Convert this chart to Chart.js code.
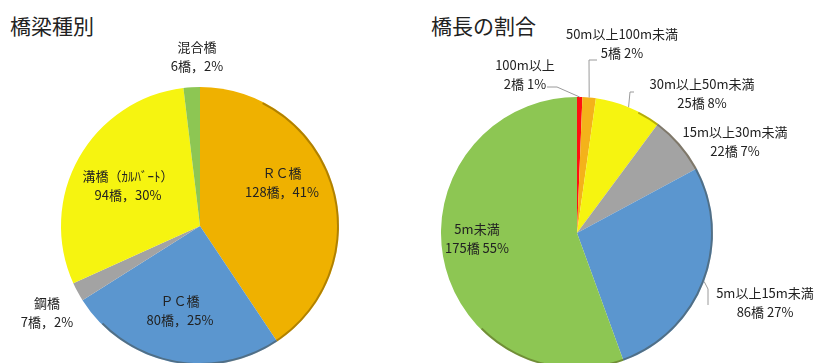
<!DOCTYPE html>
<html lang="ja">
<head>
<meta charset="utf-8">
<title>橋梁種別・橋長の割合</title>
<script src="https://cdn.jsdelivr.net/npm/chart.js@4.4.0/dist/chart.umd.min.js"></script>
<style>
  html, body { margin: 0; padding: 0; background: #fff; overflow: hidden; }
  body { width: 821px; height: 363px; position: relative; font-family: "Noto Sans CJK JP", sans-serif; }
  .title { position: absolute; top: 10px; font-size: 21px; line-height: 30px; color: #222; }
  .box { position: absolute; top: 0; }
</style>
</head>
<body>
<div class="title" style="left:10px">橋梁種別</div>
<div class="title" style="left:431px">橋長の割合</div>
<div class="box" style="left:0;width:410px;height:365px"><canvas id="typeChart"></canvas></div>
<div class="box" style="left:410px;width:411px;height:369px"><canvas id="lengthChart"></canvas></div>

<script>
// 橋梁種別
const typeLabels = ['ＲＣ橋', 'ＰＣ橋', '鋼橋', '溝橋（ｶﾙﾊﾞｰﾄ）', '混合橋'];
const typeCounts = [128, 80, 7, 94, 6];
const typePercents = [41, 25, 2, 30, 2];
const typeColors = ['#EFB100', '#5B96CF', '#A3A3A3', '#F6F410', '#8DC653'];

// 橋長の割合
const lengthLabels = ['100m以上', '50m以上100m未満', '30m以上50m未満', '15m以上30m未満', '5m以上15m未満', '5m未満'];
const lengthCounts = [2, 5, 25, 22, 86, 175];
const lengthPercents = [1, 2, 8, 7, 27, 55];
const lengthColors = ['#FF1010', '#F4B21A', '#F6F410', '#A3A3A3', '#5B96CF', '#8DC653'];

// ラベルと引出線（円の中心からの相対位置）
const sliceLabels = {
  id: 'sliceLabels',
  afterDatasetsDraw(chart, args, opts) {
    const ctx = chart.ctx;
    const arcs = chart.getDatasetMeta(0).data;
    if (!arcs.length) return;
    const cx = arcs[0].x, cy = arcs[0].y, r = arcs[0].outerRadius;

    // 右下の縁の影
    ctx.save();
    ctx.beginPath();
    ctx.arc(cx, cy, r - 1, -Math.PI * 0.35, Math.PI * 0.75);
    ctx.strokeStyle = 'rgba(60,40,0,0.35)';
    ctx.lineWidth = 2;
    ctx.stroke();
    ctx.restore();

    ctx.save();
    ctx.font = opts.font;
    ctx.fillStyle = '#222';
    ctx.textAlign = 'center';
    ctx.textBaseline = 'middle';
    arcs.forEach((arc, i) => {
      const [dx, dy] = opts.offsets[i];
      const lines = opts.text(i);
      lines.forEach((t, k) => {
        ctx.fillText(t, cx + dx, cy + dy + (k - (lines.length - 1) / 2) * opts.lineHeight);
      });
      const leader = opts.leaders && opts.leaders[i];
      if (leader) {
        const mid = (arc.startAngle + arc.endAngle) / 2;
        ctx.beginPath();
        leader.forEach(([lx, ly], k) => {
          if (k === 0) ctx.moveTo(cx + lx, cy + ly);
          else ctx.lineTo(cx + lx, cy + ly);
        });
        ctx.lineTo(cx + r * Math.cos(mid), cy + r * Math.sin(mid));
        ctx.strokeStyle = '#9a9a9a';
        ctx.lineWidth = 1;
        ctx.stroke();
      }
    });
    ctx.restore();
  }
};

function pieOptions(padding, labelOpts) {
  return {
    responsive: true,
    maintainAspectRatio: false,
    animation: false,
    layout: { padding },
    plugins: {
      legend: { display: false },
      tooltip: { enabled: false },
      sliceLabels: labelOpts
    }
  };
}

new Chart(document.getElementById('typeChart'), {
  type: 'pie',
  data: {
    labels: typeLabels,
    datasets: [{ data: typeCounts, backgroundColor: typeColors, borderWidth: 0 }]
  },
  options: pieOptions({ left: 61, right: 71, top: 87, bottom: 0 }, {
    font: '13px "Noto Sans CJK JP"',
    lineHeight: 19,
    offsets: [[82, -43], [-20, 85], [-153, 87], [-72, -40], [-3, -169]],
    text: (i) => [typeLabels[i], `${typeCounts[i]}橋，${typePercents[i]}%`]
  }),
  plugins: [sliceLabels]
});

new Chart(document.getElementById('lengthChart'), {
  type: 'pie',
  data: {
    labels: lengthLabels,
    datasets: [{ data: lengthCounts, backgroundColor: lengthColors, borderWidth: 0 }]
  },
  options: pieOptions({ left: 31, right: 108, top: 97, bottom: 0 }, {
    font: '13px "Noto Sans CJK JP"',
    lineHeight: 19,
    offsets: [[-52, -158], [45, -189], [125, -139], [158, -91], [188, 70], [-100, 6]],
    leaders: [
      [[-30, -146], [-20, -146]],
      [[20, -173], [12, -173]],
      [[57, -141], [53, -141]],
      null,
      [[131, 72], [131, 56]],
      null
    ],
    text: (i) => [lengthLabels[i], `${lengthCounts[i]}橋 ${lengthPercents[i]}%`]
  }),
  plugins: [sliceLabels]
});
</script>
</body>
</html>
